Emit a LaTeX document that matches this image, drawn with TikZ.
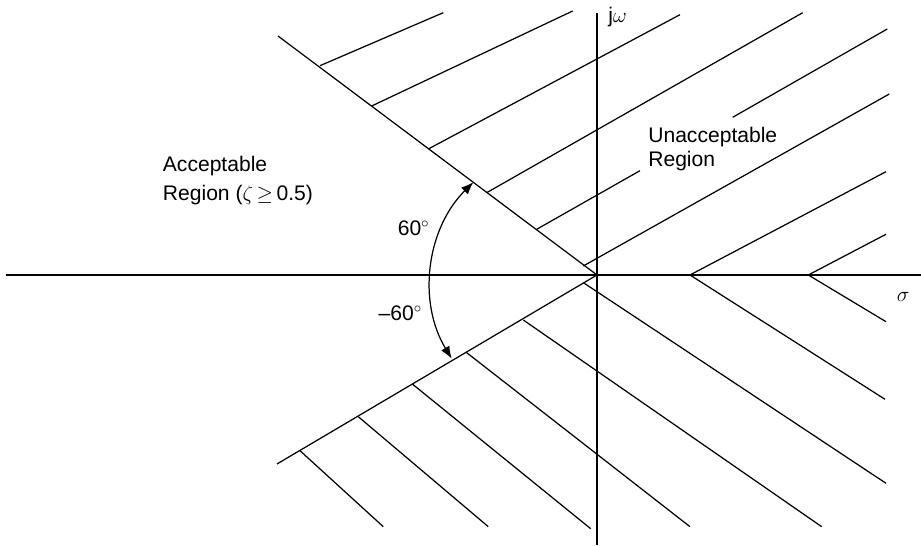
\documentclass[tikz,border=0pt]{standalone}
\usepackage{fontspec}
\setmainfont{Liberation Sans}
\usetikzlibrary{arrows.meta,calc}
\tikzset{
  every picture/.style={line width=0.7pt},
  axisline/.style={draw=black},
  border/.style={draw=black},
  hatch/.style={draw=black},
  txt/.style={font=\fontsize{12}{14}\selectfont, inner sep=0pt},
  angarrow/.style={{Latex[length=7pt,width=5.5pt]}-{Latex[length=7pt,width=5.5pt]}, draw=black},
}

\begin{document}
\begin{tikzpicture}[x=0.02cm, y=0.02cm]
  \useasboundingbox (-597,-271) rectangle (324,275);
  \coordinate (O) at (0,0);
  \coordinate (arcc) at (-22.4,-9.2);
  \draw[axisline] (-591,0) -- (324,0);
  \draw[axisline] (0,262) -- (0,-270);
  \draw[border] (-319,239) -- (O);
  \draw[border] (-320,-189) -- (O);
  \draw[hatch] (-277,209.3) -- (-153.7,262.3);
  \draw[hatch] (-225.3,169) -- (-24.3,264);
  \draw[hatch] (-168.7,126) -- (83,260.3);
  \draw[hatch] (-110.3,82.3) -- (205.7,262.3);
  \draw[hatch] (135.7,157.7) -- (290.3,246);
  \draw[hatch] (-60.3,45.7) -- (43,104.3);
  \draw[hatch] (-13.7,9) -- (292.3,181);
  \draw[hatch] (93,0) -- (289,103.3);
  \draw[hatch] (211.3,0) -- (289,40.7);
  \draw[hatch] (-297,-175.7) -- (-213.7,-251.7);
  \draw[hatch] (-238.7,-141.7) -- (-108.7,-251.7);
  \draw[hatch] (-184.7,-109) -- (-6.3,-253.7);
  \draw[hatch] (-130.3,-77.7) -- (93,-251.7);
  \draw[hatch] (-73.7,-45) -- (224.7,-251.7);
  \draw[hatch] (-12.7,-8.3) -- (289,-208.3);
  \draw[hatch] (93,0) -- (288,-124.3);
  \draw[hatch] (211.3,0) -- (289,-46.7);
  \draw[angarrow] ($(arcc)+(211.2:143.7)$) arc[start angle=211.2, end angle=134.8, radius=143.7];
  \node[txt, anchor=west, align=left, font=\fontsize{12}{16.7}\selectfont] (acc) at (-434.7,94.3) {Acceptable\\Region ($\zeta\,{\geq}\,$0.5)};
  \node[txt, anchor=west, align=left, font=\fontsize{12}{13.7}\selectfont] (unacc) at (50.7,125.9) {Unacceptable\\Region};
  \node[txt] (pos) at (-183.3,47) {60$^\circ$};
  \node[txt] (neg) at (-196.5,-38) {--60$^\circ$};
  \node[txt] (jw) at (20.5,257.5) {j$\omega$};
  \node[txt] (sig) at (306,-22) {$\sigma$};
\end{tikzpicture}
\end{document}
